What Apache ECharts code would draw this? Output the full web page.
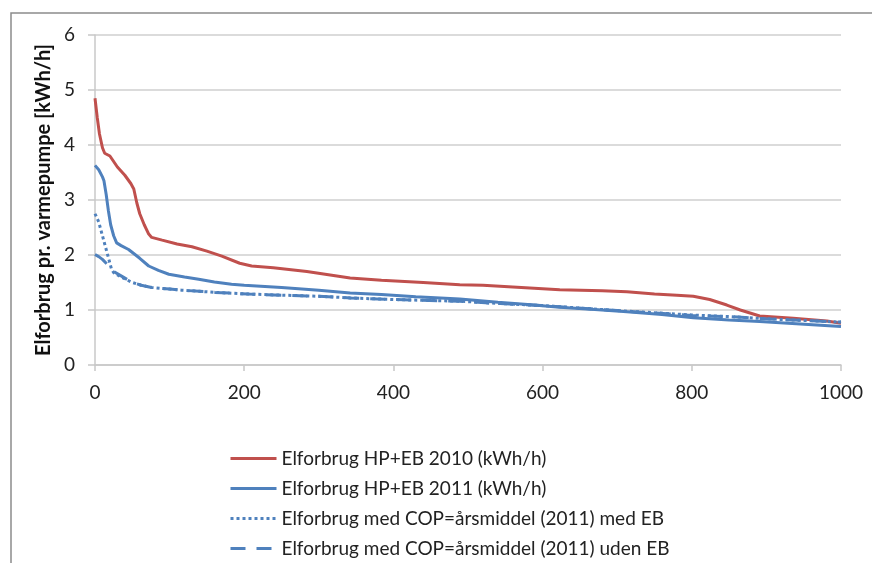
<!DOCTYPE html>
<html>
<head>
<meta charset="utf-8">
<script src="https://cdn.jsdelivr.net/npm/echarts@6/dist/echarts.min.js"></script>
<style>
  html, body { margin: 0; padding: 0; background: #fff; }
  #main { width: 872px; height: 563px; }
</style>
</head>
<body>
<div id="main"></div>
<script>
// tick labels
var xTicks = [0, 200, 400, 600, 800, 1000];
var yTicks = [0, 1, 2, 3, 4, 5, 6];

// Elforbrug HP+EB 2010
var hp2010X = [0, 3, 6, 10, 13, 20, 30, 40, 48, 52, 56, 60, 66, 72, 76, 90, 110, 130, 150, 170, 194, 210, 239, 284, 342, 384, 440, 489, 520, 560, 623, 680, 713, 750, 780, 802, 824, 847, 865, 891, 936, 981, 1000];
var hp2010Y = [4.85, 4.5, 4.2, 3.95, 3.85, 3.8, 3.6, 3.45, 3.3, 3.2, 2.95, 2.75, 2.55, 2.38, 2.32, 2.27, 2.2, 2.15, 2.07, 1.98, 1.85, 1.8, 1.77, 1.7, 1.58, 1.54, 1.5, 1.46, 1.45, 1.42, 1.37, 1.35, 1.33, 1.29, 1.27, 1.25, 1.19, 1.09, 1.0, 0.89, 0.85, 0.8, 0.76];

// Elforbrug HP+EB 2011
var hp2011X = [0, 5, 10, 12, 15, 18, 21, 25, 29, 35, 45, 60, 72, 85, 99, 120, 139, 160, 183, 200, 250, 300, 342, 384, 430, 489, 540, 580, 623, 670, 713, 760, 802, 850, 891, 940, 1000];
var hp2011Y = [3.63, 3.55, 3.42, 3.35, 3.1, 2.8, 2.55, 2.35, 2.22, 2.17, 2.1, 1.94, 1.8, 1.72, 1.65, 1.6, 1.56, 1.51, 1.47, 1.45, 1.41, 1.36, 1.31, 1.28, 1.24, 1.2, 1.14, 1.1, 1.05, 1.01, 0.97, 0.92, 0.86, 0.82, 0.79, 0.75, 0.7];

// Elforbrug med COP=årsmiddel (2011) med EB
var medEbX = [0, 5, 10, 14, 18, 22, 25, 35, 50, 62, 76, 100, 116, 140, 161, 206, 250, 300, 342, 400, 489, 540, 600, 700, 800, 850, 900, 950, 1000];
var medEbY = [2.75, 2.6, 2.35, 2.15, 1.95, 1.75, 1.68, 1.6, 1.5, 1.45, 1.41, 1.38, 1.36, 1.34, 1.32, 1.29, 1.27, 1.25, 1.22, 1.19, 1.16, 1.12, 1.08, 0.99, 0.91, 0.88, 0.84, 0.81, 0.78];

// Elforbrug med COP=årsmiddel (2011) uden EB
var udenEbX = [0, 5, 10, 15, 20, 25, 35, 50, 62, 76, 100, 116, 140, 161, 206, 250, 300, 342, 400, 489, 540, 600, 700, 800, 850, 900, 950, 1000];
var udenEbY = [2.01, 1.97, 1.92, 1.85, 1.78, 1.7, 1.62, 1.5, 1.45, 1.41, 1.38, 1.36, 1.34, 1.32, 1.29, 1.27, 1.25, 1.22, 1.19, 1.16, 1.12, 1.08, 0.99, 0.9, 0.88, 0.84, 0.81, 0.78];

var names = [
  'Elforbrug HP+EB 2010 (kWh/h)',
  'Elforbrug HP+EB 2011 (kWh/h)',
  'Elforbrug med COP=årsmiddel (2011) med EB',
  'Elforbrug med COP=årsmiddel (2011) uden EB'
];

function pairs(xs, ys) {
  return xs.map(function (x, i) { return [x, ys[i]]; });
}

var font = 'Lato, "Open Sans", sans-serif';
var chart = echarts.init(document.getElementById('main'));
chart.setOption({
  animation: false,
  textStyle: { fontFamily: font },
  graphic: [{
    type: 'rect',
    shape: { x: 11, y: 13, width: 900, height: 600 },
    style: { fill: 'none', stroke: '#8c8c8c', lineWidth: 1.5 },
    silent: true
  }],
  grid: { left: 95, right: 31, top: 35, bottom: 198 },
  legend: {
    orient: 'vertical',
    left: 224,
    top: 444,
    itemWidth: 46,
    itemHeight: 14,
    itemGap: 11,
    itemStyle: { opacity: 0 },
    lineStyle: { width: 3 },
    textStyle: { fontFamily: font, fontSize: 19, color: '#222' },
    data: names
  },
  xAxis: {
    type: 'value',
    min: 0,
    max: 1000,
    interval: 200,
    splitLine: { show: false },
    axisLine: { lineStyle: { color: '#c8c8c8', width: 1.5 } },
    axisTick: { show: true, length: 6, lineStyle: { color: '#c8c8c8', width: 1.5 } },
    axisLabel: {
      margin: 18, fontSize: 19, color: '#222', fontFamily: font,
      formatter: function (v) { return xTicks.indexOf(v) >= 0 ? String(v) : ''; }
    }
  },
  yAxis: {
    type: 'value',
    min: 0,
    max: 6,
    interval: 1,
    name: 'Elforbrug pr. varmepumpe [kWh/h]',
    nameLocation: 'middle',
    nameGap: 37,
    nameTextStyle: { fontSize: 20, fontWeight: 'bold', color: '#111', fontFamily: font },
    axisLine: { show: true, lineStyle: { color: '#c8c8c8', width: 1.5 } },
    axisTick: { show: true, length: 7, lineStyle: { color: '#c8c8c8', width: 1.5 } },
    splitLine: { lineStyle: { color: '#cfcfcf', width: 1.5 } },
    axisLabel: {
      margin: 20, fontSize: 19, color: '#222', fontFamily: font,
      formatter: function (v) { return yTicks.indexOf(v) >= 0 ? String(v) : ''; }
    }
  },
  series: [
    {
      name: names[0], type: 'line', symbol: 'none', z: 3,
      lineStyle: { color: '#c0504d', width: 3 }, itemStyle: { color: '#c0504d' },
      data: pairs(hp2010X, hp2010Y)
    },
    {
      name: names[1], type: 'line', symbol: 'none', z: 4,
      lineStyle: { color: '#4f81bd', width: 3 }, itemStyle: { color: '#4f81bd' },
      data: pairs(hp2011X, hp2011Y)
    },
    {
      name: names[2], type: 'line', symbol: 'none', z: 5,
      lineStyle: { color: '#4f81bd', width: 3, type: [3, 3] }, itemStyle: { color: '#4f81bd' },
      data: pairs(medEbX, medEbY)
    },
    {
      name: names[3], type: 'line', symbol: 'none', z: 5,
      lineStyle: { color: '#4f81bd', width: 3, type: [15, 11] }, itemStyle: { color: '#4f81bd' },
      data: pairs(udenEbX, udenEbY)
    }
  ]
});
</script>
</body>
</html>
